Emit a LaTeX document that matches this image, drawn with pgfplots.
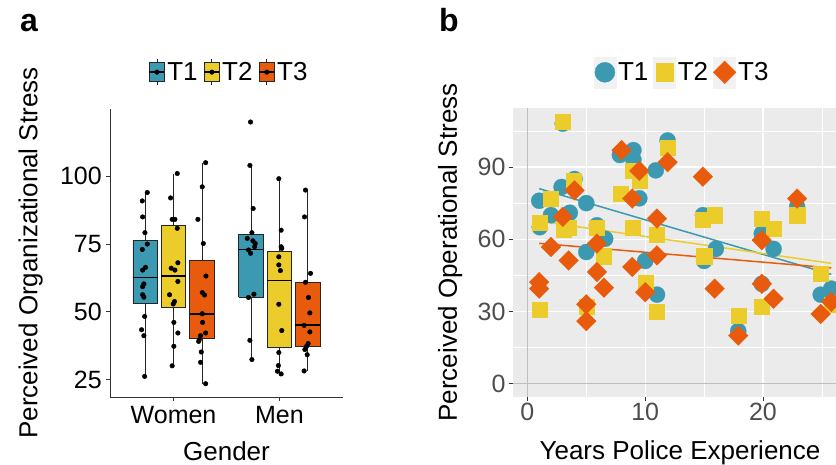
\documentclass[border=0pt]{standalone}
\usepackage{pgfplots}
\pgfplotsset{compat=1.18}
\usepackage{fontspec}
\setmainfont{Liberation Sans}
\definecolor{cT1}{HTML}{3B9AB2}
\definecolor{cT2}{HTML}{EBCC2A}
\definecolor{cT3}{HTML}{E85A0C}
\definecolor{panelbg}{HTML}{EBEBEB}
\definecolor{keybg}{HTML}{F2F2F2}
\definecolor{tickgray}{HTML}{4D4D4D}
\pgfplotsset{
  boxwhisker/.style={forget plot, black!85, line width=0.8pt},
  boxbody/.style={forget plot, draw=black!85, fill=#1, line width=0.8pt},
  boxmedian/.style={forget plot, black, line width=1.6pt},
  jitterpts/.style={forget plot, only marks, mark=*, mark size=2.3pt, black},
}
\begin{document}
\begin{tikzpicture}
\path[use as bounding box] (0,0) rectangle (836pt,465pt);
\node[anchor=base west, inner sep=0pt, font=\fontsize{32}{38}\selectfont\bfseries] at (20pt,433.3pt) {a};
\node[anchor=base west, inner sep=0pt, font=\fontsize{32}{38}\selectfont\bfseries] at (439pt,433.3pt) {b};
% ---------------- panel a
\begin{axis}[
  at={(110pt,68pt)}, anchor=south west,
  scale only axis, width=233pt, height=288pt,
  xmin=0.4, xmax=2.6, ymin=18.6, ymax=124.8,
  axis x line*=bottom, axis y line*=left,
  axis line style={-, black!80, line width=0.8pt},
  xtick={1,2}, xticklabels={Women,Men},
  ytick={25,50,75,100},
  tick align=outside, major tick length=4pt,
  tick style={black!80, line width=0.8pt},
  ticklabel style={font=\fontsize{25}{30}\selectfont, text=black, inner sep=0pt},
  /pgf/number format/assume math mode=true,
  xticklabel style={yshift=-5pt},
  yticklabel style={xshift=-4pt},
  xlabel={Gender}, ylabel={Perceived Organizational Stress},
  label style={font=\fontsize{26}{31}\selectfont},
  xlabel style={at={(axis description cs:0.5,-0.221)}, anchor=base},
  ylabel style={at={(axis description cs:-0.312,0.5)}, anchor=base},
  legend columns=3,
  legend style={at={(0.511,1.128)}, anchor=center, draw=none, fill=none,
    font=\fontsize{26}{31}\selectfont, inner sep=0pt,
    /tikz/every even column/.append style={column sep=4pt}},
  clip=false,
]
\addlegendimage{legend image code/.code={
  \draw[black!85, line width=0.8pt] (0pt,-13pt) -- (0pt,13pt);
  \filldraw[fill=cT1, draw=black!85, line width=0.8pt] (-7.5pt,-9.5pt) rectangle (7.5pt,9.5pt);
  \draw[black, line width=1.6pt] (-7.5pt,0pt) -- (7.5pt,0pt);
  \fill[black] (0pt,0pt) circle[radius=2.3pt];}}
\addlegendentry{T1}
\addlegendimage{legend image code/.code={
  \draw[black!85, line width=0.8pt] (0pt,-13pt) -- (0pt,13pt);
  \filldraw[fill=cT2, draw=black!85, line width=0.8pt] (-7.5pt,-9.5pt) rectangle (7.5pt,9.5pt);
  \draw[black, line width=1.6pt] (-7.5pt,0pt) -- (7.5pt,0pt);
  \fill[black] (0pt,0pt) circle[radius=2.3pt];}}
\addlegendentry{T2}
\addlegendimage{legend image code/.code={
  \draw[black!85, line width=0.8pt] (0pt,-13pt) -- (0pt,13pt);
  \filldraw[fill=cT3, draw=black!85, line width=0.8pt] (-7.5pt,-9.5pt) rectangle (7.5pt,9.5pt);
  \draw[black, line width=1.6pt] (-7.5pt,0pt) -- (7.5pt,0pt);
  \fill[black] (0pt,0pt) circle[radius=2.3pt];}}
\addlegendentry{T3}
% Women T1: whiskers 26.2-94, box 53.2-76.2, median 62.7
\addplot[boxwhisker] coordinates {(0.733,26.2) (0.733,94)};
\addplot[boxbody=cT1] coordinates {(0.6165,53.2) (0.8495,53.2) (0.8495,76.2) (0.6165,76.2) (0.6165,53.2)};
\addplot[boxmedian] coordinates {(0.6165,62.7) (0.8495,62.7)};
% Women T2
\addplot[boxwhisker] coordinates {(1.0,30.1) (1.0,101)};
\addplot[boxbody=cT2] coordinates {(0.8835,51.5) (1.1165,51.5) (1.1165,81.7) (0.8835,81.7) (0.8835,51.5)};
\addplot[boxmedian] coordinates {(0.8835,63.2) (1.1165,63.2)};
% Women T3
\addplot[boxwhisker] coordinates {(1.268,23.5) (1.268,105)};
\addplot[boxbody=cT3] coordinates {(1.1515,40.1) (1.3845,40.1) (1.3845,69.1) (1.1515,69.1) (1.1515,40.1)};
\addplot[boxmedian] coordinates {(1.1515,49.1) (1.3845,49.1)};
% Men T1
\addplot[boxwhisker] coordinates {(1.732,32.4) (1.732,104)};
\addplot[boxbody=cT1] coordinates {(1.6155,55.3) (1.8485,55.3) (1.8485,78.6) (1.6155,78.6) (1.6155,55.3)};
\addplot[boxmedian] coordinates {(1.6155,73) (1.8485,73)};
% Men T2
\addplot[boxwhisker] coordinates {(2.0,27.1) (2.0,99.1)};
\addplot[boxbody=cT2] coordinates {(1.8835,37.0) (2.1165,37.0) (2.1165,72.2) (1.8835,72.2) (1.8835,37.0)};
\addplot[boxmedian] coordinates {(1.8835,61.6) (2.1165,61.6)};
% Men T3
\addplot[boxwhisker] coordinates {(2.268,28.2) (2.268,94.9)};
\addplot[boxbody=cT3] coordinates {(2.1515,37.3) (2.3845,37.3) (2.3845,61) (2.1515,61) (2.1515,37.3)};
\addplot[boxmedian] coordinates {(2.1515,45.1) (2.3845,45.1)};
% jittered points
\addplot[jitterpts] coordinates {
(0.752,94) (0.705,90.9) (0.708,85) (0.730,79.2) (0.752,75) (0.705,73) (0.736,66.4) (0.708,65.4) (0.720,60.3) (0.708,59.3) (0.708,56.3) (0.720,55.4) (0.727,48.3) (0.698,43.4) (0.720,41.2) (0.727,26.2)};
\addplot[jitterpts] coordinates {
(1.035,101) (0.972,92) (0.987,84.1) (1.013,84.1) (1.035,80.8) (1.041,68.1) (0.978,66.1) (1.013,65.4) (1.041,61.2) (0.962,56.3) (1.009,53.8) (0.997,52.9) (1.003,46.1) (1.041,42.2) (1.003,37.3) (0.987,30.1)};
\addplot[jitterpts] coordinates {
(1.303,105) (1.271,96.1) (1.230,84.1) (1.281,75.2) (1.306,63.2) (1.271,57.1) (1.293,56.2) (1.271,49.3) (1.274,46.1) (1.303,42.2) (1.255,41.2) (1.243,39.7) (1.237,39.1) (1.262,35.2) (1.255,31.4) (1.303,23.5)};
\addplot[jitterpts] coordinates {
(1.727,120) (1.721,104) (1.752,88.1) (1.740,79.2) (1.696,77.1) (1.749,76.2) (1.771,75.2) (1.765,74) (1.708,72.8) (1.727,71.6) (1.759,56.5) (1.708,55.3) (1.721,39.5) (1.740,32.4)};
\addplot[jitterpts] coordinates {
(1.994,99.1) (2.016,80.1) (2.016,74) (2.022,73.4) (1.994,70.3) (1.994,67.3) (2.009,65.2) (1.994,52.8) (2.022,43.1) (1.994,35) (1.990,30.2) (1.981,28.1) (2.016,27.1)};
\addplot[jitterpts] coordinates {
(2.246,94.9) (2.237,85) (2.293,64.2) (2.246,60.9) (2.274,55.3) (2.287,49.6) (2.233,45) (2.287,42.6) (2.271,38.3) (2.256,37.3) (2.240,36.1) (2.262,34.2) (2.233,28.2)};
\end{axis}
% ---------------- panel b
\begin{axis}[
  at={(512.7pt,68pt)}, anchor=south west,
  scale only axis, width=323.3pt, height=289pt,
  xmin=-1.25, xmax=26.2, ymin=-5.5, ymax=114.5,
  axis background/.style={fill=panelbg},
  axis line style={draw=none},
  xtick={0,10,20}, ytick={0,30,60,90},
  minor xtick={5,15,25}, minor ytick={15,45,75,105},
  grid=both,
  major grid style={white, line width=1.1pt},
  minor grid style={white, line width=0.5pt},
  tick align=outside, major tick length=4pt, minor tick length=0pt,
  tick pos=left,
  tick style={black!80, line width=0.8pt},
  ticklabel style={font=\fontsize{25}{30}\selectfont, text=tickgray, inner sep=0pt},
  /pgf/number format/assume math mode=true,
  xticklabel style={yshift=-2pt},
  yticklabel style={xshift=-3pt},
  xlabel={Years Police Experience}, ylabel={Perceived Operational Stress},
  label style={font=\fontsize{26}{31}\selectfont},
  xlabel style={at={(axis description cs:0.5175,-0.218)}, anchor=base},
  ylabel style={at={(axis description cs:-0.1723,0.5)}, anchor=base},
  legend columns=3,
  legend style={at={(0.524,1.1235)}, anchor=center, draw=none, fill=none,
    font=\fontsize{26}{31}\selectfont, inner sep=0pt,
    /tikz/every even column/.append style={column sep=3pt}},
]
\addlegendimage{legend image code/.code={
  \fill[keybg] (-11pt,-15.5pt) rectangle (11pt,15.5pt);
  \fill[cT1] (0pt,0pt) circle[radius=10pt];}}
\addlegendentry{T1}
\addlegendimage{legend image code/.code={
  \fill[keybg] (-11pt,-15.5pt) rectangle (11pt,15.5pt);
  \fill[cT2] (-8.8pt,-8.8pt) rectangle (8.8pt,8.8pt);}}
\addlegendentry{T2}
\addlegendimage{legend image code/.code={
  \fill[keybg] (-11pt,-15.5pt) rectangle (11pt,15.5pt);
  \fill[cT3] (0pt,11.3pt) -- (11.3pt,0pt) -- (0pt,-11.3pt) -- (-11.3pt,0pt) -- cycle;}}
\addlegendentry{T3}
\addplot[forget plot, black!25, line width=1pt] coordinates {(0,-5.5) (0,114.5)};
\addplot[forget plot, black!25, line width=1pt] coordinates {(-1.25,0) (26.2,0)};
% T1
\addplot[forget plot, only marks, mark=*, mark size=8.1pt, draw=cT1, fill=cT1, mark options={draw=cT1, fill=cT1, line width=0.2pt}] coordinates {
(3,108) (1,76) (1.05,65) (2.9,81.7) (2,70) (4,85) (3.6,71) (5,75) (5,54.7) (5.9,65.8) (6.6,60.2) (7.85,95) (9,97) (9,93) (9.5,77) (10,51) (10.9,88.6) (11,37) (11.9,101) (14.9,70) (15,51) (16,56) (17.9,21.9) (19.9,62.3) (19.9,41.5) (20.9,56) (22.9,73.4) (24.9,37) (25.8,39.5)};
\addplot[forget plot, cT1, line width=1.5pt] coordinates {(1,81) (25.8,45.4)};
% T2
\addplot[forget plot, only marks, mark=square*, mark size=7.6pt, draw=cT2, fill=cT2, mark options={draw=cT2, fill=cT2, line width=0.2pt}] coordinates {
(3,109) (2,77) (1,67) (3.9,84.5) (3.05,64) (3.5,65) (5.9,65) (6.5,53) (7.9,79) (8.9,65) (8.9,88.6) (9.5,84.5) (11,62) (11.9,98) (10,42) (11,30) (14.9,68) (15.9,70) (15,53) (19.9,68.5) (20.9,64.4) (19.9,31.9) (17.9,28.4) (22.9,70) (1,30.7) (5,32) (24.9,45.7) (25.8,33)};
\addplot[forget plot, cT2, line width=1.5pt] coordinates {(1,67.5) (25.8,50)};
% T3
\addplot[forget plot, only marks, mark=square*, mark size=7.0pt, draw=cT3, fill=cT3, mark options={draw=cT3, fill=cT3, line width=0.2pt, rotate=45}] coordinates {
(1,42.2) (1,39.5) (2,56.8) (3,69.3) (4,80.3) (3.5,51.2) (5,33) (5,26) (5.9,46.4) (5.9,58.2) (6.5,39.9) (8,97) (8.9,76.9) (9.5,88.4) (8.9,48.5) (10,38) (11,68.6) (11,53.3) (11.9,92) (14.9,86) (15.9,39.5) (17.9,20) (19.9,59.6) (19.9,41.5) (20.9,35.3) (22.9,76.9) (24.9,29) (25.8,34)};
\addplot[forget plot, cT3, line width=1.5pt] coordinates {(1,58.3) (25.8,48.1)};
\end{axis}
\end{tikzpicture}
\end{document}
